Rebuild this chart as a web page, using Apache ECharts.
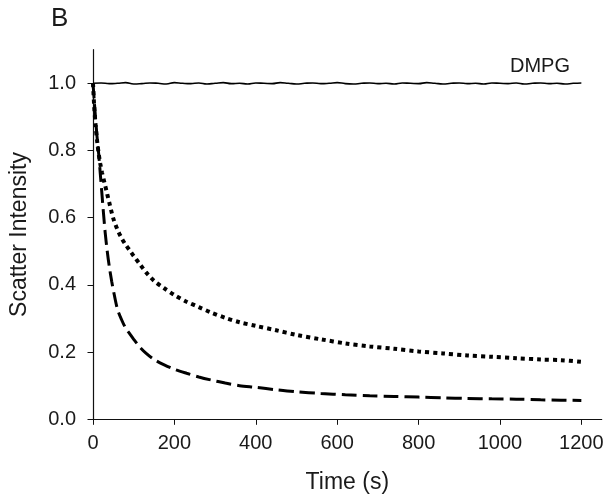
<!DOCTYPE html>
<html>
<head>
<meta charset="utf-8">
<script src="https://cdn.jsdelivr.net/npm/echarts@6/dist/echarts.min.js"></script>
<style>
html,body{margin:0;padding:0;background:#fff;}
#chart{width:612px;height:503px;}
</style>
</head>
<body>
<div id="chart"></div>
<script>
// ---- Data ----
const xTicks = [0, 200, 400, 600, 800, 1000, 1200];
const xTickLabels = ['0', '200', '400', '600', '800', '1000', '1200'];
const yTicks = [0, 0.2, 0.4, 0.6, 0.8, 1.0];
const yTickLabels = ['0.0', '0.2', '0.4', '0.6', '0.8', '1.0'];

const dmpgTime = [0,20,40,60,80,100,120,140,160,180,200,220,240,260,280,300,320,340,360,380,400,420,440,460,480,500,520,540,560,580,600,620,640,660,680,700,720,740,760,780,800,820,840,860,880,900,920,940,960,980,1000,1020,1040,1060,1080,1100,1120,1140,1160,1180,1200];
const dmpgValue = [1.000,1.001,0.999,1.000,1.002,0.998,0.999,1.001,1.000,0.998,
                   1.002,1.000,0.999,1.001,0.998,1.000,1.002,0.999,1.000,0.998,
                   1.001,1.000,0.999,1.002,1.000,0.998,1.000,1.001,0.999,1.000,
                   1.002,0.999,0.998,1.000,1.001,0.999,1.000,0.998,1.001,1.000,
                   0.999,1.002,1.000,0.998,1.000,1.001,0.999,1.000,0.998,1.001,
                   1.000,0.999,1.001,0.998,1.000,1.001,0.999,1.000,0.998,1.000,
                   1.001];

const decayTime = [0,3,6,10,14,18,22,26,30,35,40,46,52,60,70,80,90,100,115,130,150,175,200,230,260,290,325,360,400,450,500,560,620,680,740,800,860,920,980,1040,1100,1150,1200];
const dottedValue = [1.0,0.93,0.88,0.83,0.79,0.76,0.735,0.715,0.695,0.67,0.645,0.615,0.59,0.565,0.54,0.52,0.503,0.486,0.462,0.438,0.412,0.39,0.37,0.35,0.334,0.318,0.302,0.289,0.278,0.265,0.251,0.238,0.226,0.217,0.21,0.202,0.196,0.19,0.186,0.182,0.178,0.176,0.171];
const dashedValue = [1.0,0.95,0.90,0.84,0.79,0.73,0.67,0.61,0.555,0.50,0.455,0.41,0.372,0.328,0.297,0.272,0.255,0.238,0.215,0.197,0.178,0.162,0.149,0.137,0.126,0.117,0.108,0.100,0.095,0.088,0.082,0.077,0.073,0.070,0.068,0.066,0.064,0.062,0.061,0.060,0.058,0.057,0.056];

const zip = (xs, ys) => xs.map((x, i) => [x, ys[i]]);
const pick = (ticks, labels) => v => { const i = ticks.findIndex(t => Math.abs(t - v) < 1e-9); return i >= 0 ? labels[i] : ''; };

const chart = echarts.init(document.getElementById('chart'), null, {renderer: 'canvas'});
const FONT = 'Liberation Sans, Arial, Helvetica, sans-serif';
const TXT = '#1a1a1a';

chart.setOption({
  animation: false,
  backgroundColor: '#ffffff',
  grid: {left: 87.5, right: 10.3, top: 49.7, bottom: 83.7, containLabel: false},
  graphic: [
    {type: 'text', left: 51, top: 6, style: {text: 'B', font: '26px ' + FONT, fill: TXT}},
    {type: 'text', left: 510, top: 56, style: {text: 'DMPG', font: '20px ' + FONT, fill: TXT}}
  ],
  xAxis: {
    type: 'value', min: 0, max: 1250,
    name: 'Time (s)', nameLocation: 'middle', nameGap: 52,
    nameTextStyle: {fontFamily: FONT, fontSize: 23, color: TXT},
    axisLine: {show: true, onZero: false, lineStyle: {color: '#111', width: 1.2}},
    axisTick: {show: true, inside: false, length: 5.5, customValues: xTicks, lineStyle: {color: '#111', width: 1}},
    axisLabel: {customValues: xTicks, margin: 14, fontFamily: FONT, fontSize: 20, color: TXT,
      formatter: pick(xTicks, xTickLabels)},
    splitLine: {show: false}
  },
  yAxis: {
    type: 'value', min: 0, max: 1.1,
    name: 'Scatter Intensity', nameLocation: 'middle', nameGap: 62, nameRotate: 90,
    nameTextStyle: {fontFamily: FONT, fontSize: 23, color: TXT},
    axisLine: {show: true, onZero: false, lineStyle: {color: '#111', width: 1.2}},
    axisTick: {show: true, inside: false, length: 5.5, customValues: yTicks, lineStyle: {color: '#111', width: 1}},
    axisLabel: {customValues: yTicks, margin: 17, fontFamily: FONT, fontSize: 20, color: TXT,
      formatter: pick(yTicks, yTickLabels)},
    splitLine: {show: false}
  },
  series: [
    {name: 'DMPG', type: 'line', data: zip(dmpgTime, dmpgValue), showSymbol: false, smooth: true,
     lineStyle: {color: '#000', width: 1.6}},
    {name: 'dotted', type: 'line', data: zip(decayTime, dottedValue), showSymbol: false, smooth: 0.3,
     lineStyle: {color: '#000', width: 4, type: [4, 4], cap: 'butt'}},
    {name: 'dashed', type: 'line', data: zip(decayTime, dashedValue), showSymbol: false, smooth: 0.3,
     lineStyle: {color: '#000', width: 3, type: [15, 6], cap: 'butt'}}
  ]
});
</script>
</body>
</html>
